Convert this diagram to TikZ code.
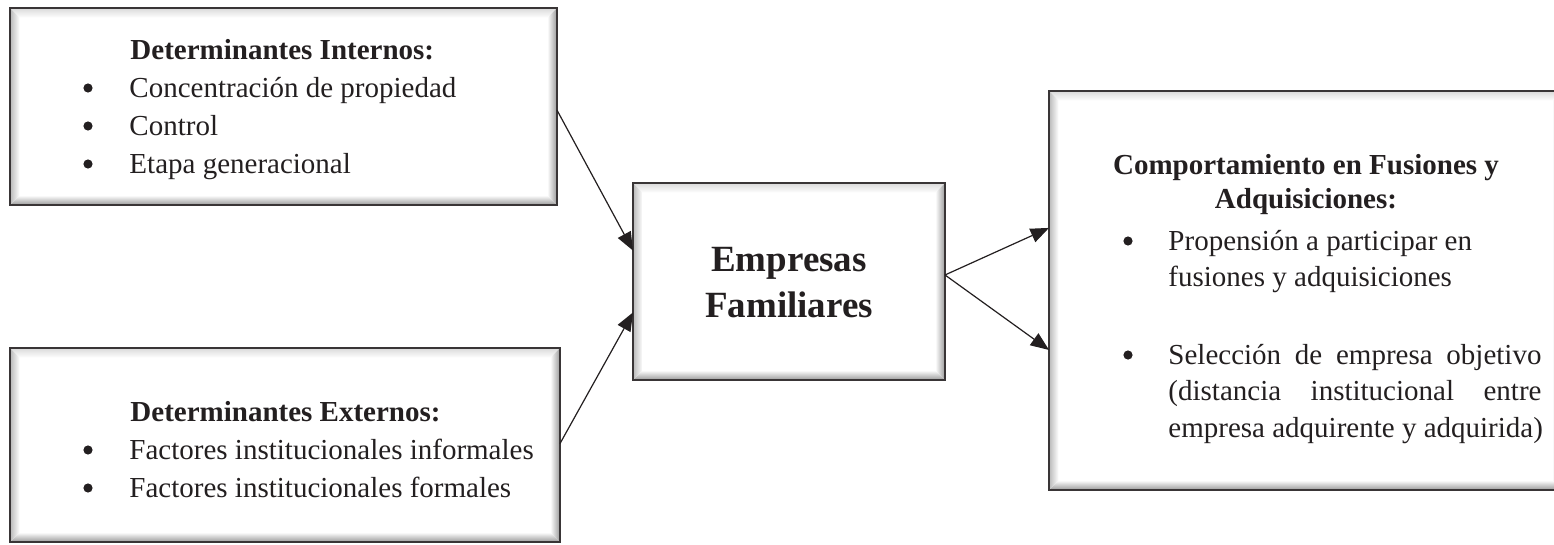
\documentclass[tikz,border=0pt]{standalone}
\usepackage{fontspec}
\setmainfont{Liberation Serif}
\usetikzlibrary{arrows.meta,calc,fit}
\definecolor{ink}{RGB}{35,31,32}
\newdimen\px \px=0.4138pt
% bevelled frame around a named node
\newcommand\bevelframe[1]{%
  \shade[top color=gray!30, bottom color=white]
    (#1.north west) -- (#1.north east) -- ($(#1.north east)+(-4pt,-4pt)$) -- ($(#1.north west)+(4pt,-4pt)$) -- cycle;
  \shade[top color=white, bottom color=gray!80]
    (#1.south west) -- (#1.south east) -- ($(#1.south east)+(-4pt,4pt)$) -- ($(#1.south west)+(4pt,4pt)$) -- cycle;
  \shade[left color=gray!55, right color=white]
    (#1.north west) -- ($(#1.north west)+(4pt,-4pt)$) -- ($(#1.south west)+(4pt,4pt)$) -- (#1.south west) -- cycle;
  \shade[left color=white, right color=gray!80]
    (#1.north east) -- ($(#1.north east)+(-4pt,-4pt)$) -- ($(#1.south east)+(-4pt,4pt)$) -- (#1.south east) -- cycle;
  \draw[frame] (#1.north west) rectangle (#1.south east);
}
\begin{document}
\begin{tikzpicture}[x=0.4138pt,y=-0.4138pt,
  box/.style={inner sep=0pt, outer sep=0pt},
  frame/.style={draw=ink!90, line width=1.2pt},
  txt/.style={anchor=base west, inner sep=0pt, text=ink, font=\fontsize{12}{14}\selectfont},
  hdr/.style={txt, font=\fontsize{12}{14}\selectfont\bfseries},
  chdr/.style={hdr, anchor=base},
  dot/.style={circle, fill=ink, inner sep=0pt, minimum size=3.8pt},
  ttl/.style={anchor=base, inner sep=0pt, text=ink, font=\fontsize{15.3}{18}\selectfont\bfseries},
  arr/.style={-{Triangle[length=7.6pt,width=6pt]}, line width=0.5pt, draw=ink}]
\useasboundingbox (0,0) rectangle (1554,544);

% boxes
\node[box, fit={(10,8) (557,205)}] (int) {};
\node[box, fit={(10,348) (560,542)}] (ext) {};
\node[box, fit={(633,183) (945,380)}] (fam) {};
\node[box, fit={(1049,91) (1562,490)}] (cmp) {};
\bevelframe{int}
\bevelframe{ext}
\bevelframe{fam}
\bevelframe{cmp}

% internal determinants
\node[hdr] (intH) at (130,59) {Determinantes Internos:};
\node[dot] (intB1) at (88,88) {};
\node[txt] (intT1) at (129,97) {Concentración de propiedad};
\node[dot] (intB2) at (88,126) {};
\node[txt] (intT2) at (129,135) {Control};
\node[dot] (intB3) at (88,164) {};
\node[txt] (intT3) at (129,173) {Etapa generacional};

% external determinants
\node[hdr] (extH) at (130,421) {Determinantes Externos:};
\node[dot] (extB1) at (88,450) {};
\node[txt] (extT1) at (129,459) {Factores institucionales informales};
\node[dot] (extB2) at (88,488) {};
\node[txt] (extT2) at (129,497) {Factores institucionales formales};

% family firms
\node[ttl] (famT1) at (789,271) {Empresas};
\node[ttl] (famT2) at (789,317) {Familiares};

% M&A behaviour
\node[chdr] (cmpH1) at (1306,174) {Comportamiento en Fusiones y};
\node[chdr] (cmpH2) at (1306,208) {Adquisiciones:};
\node[dot] (cmpB1) at (1128,241) {};
\node[txt] (cmpT1) at (1168,250) {Propensión a participar en};
\node[txt] (cmpT2) at (1168,286) {fusiones y adquisiciones};
\node[dot] (cmpB2) at (1128,355) {};
\node[txt] (cmpT3) at (1168,364) {\makebox[373\px][s]{Selección de empresa objetivo}};
\node[txt] (cmpT4) at (1168,400) {\makebox[373\px][s]{(distancia institucional entre}};
\node[txt] (cmpT5) at (1168,437) {empresa adquirente y adquirida)};

% connectors
\draw[arr] ([yshift=-1.5pt]int.east) -- ([yshift=12.8pt]fam.west);
\draw[arr] ([yshift=0.6pt]ext.east) -- ([yshift=-12.8pt]fam.west);
\draw[arr] ([yshift=2.7pt]fam.east) -- ([yshift=25.9pt]cmp.west);
\draw[arr] ([yshift=2.7pt]fam.east) -- ([yshift=-24.6pt]cmp.west);
\end{tikzpicture}
\end{document}
